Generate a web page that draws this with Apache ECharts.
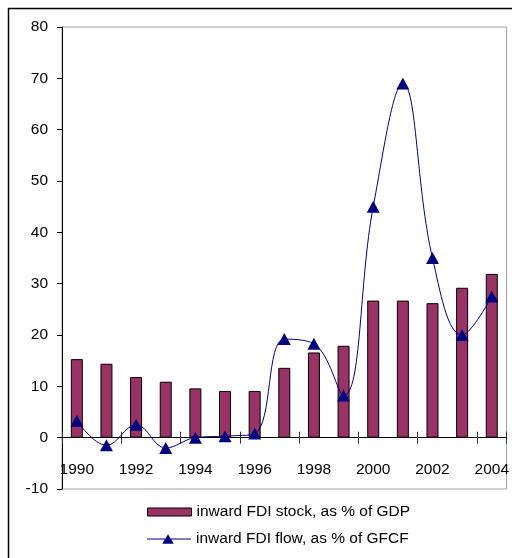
<!DOCTYPE html>
<html>
<head>
<meta charset="utf-8">
<script src="https://cdn.jsdelivr.net/npm/echarts@6/dist/echarts.min.js"></script>
<style>
  html, body { margin: 0; padding: 0; background: #fff; }
  #chart { width: 512px; height: 558px; }
</style>
</head>
<body>
<div id="chart"></div>
<script>
// data
const years = ['1990', '1991', '1992', '1993', '1994', '1995', '1996', '1997',
  '1998', '1999', '2000', '2001', '2002', '2003', '2004']
const stockGdp = [15.3, 14.4, 11.8, 10.9, 9.6, 9.1, 9.1, 13.6, 16.6, 17.9, 26.7, 26.7, 26.2, 29.2, 31.9]
const flowGfcf = [3.3, -1.5, 2.5, -2, 0, 0.3, 0.8, 19.2, 18.3, 8.2, 45, 69, 35, 20, 27.5]
const yTicks = [-10, 0, 10, 20, 30, 40, 50, 60, 70, 80]

const font = 'Liberation Sans, Arial, sans-serif'
const chart = echarts.init(document.getElementById('chart'))

const gridTop = 27
const gridBottom = 69
const yMin = yTicks[0]
const yMax = yTicks[yTicks.length - 1]
// move the category axis up from the grid bottom to the value 0
const zeroOffset = -(558 - gridTop - gridBottom) * (0 - yMin) / (yMax - yMin)

const stockName = 'inward FDI stock, as % of GDP'
const flowName = 'inward FDI flow, as % of GFCF'
// legend icon for the line: thin line with a triangle in the middle
const lineIcon = 'path://M0,4.5L46,4.5L46,5.5L0,5.5Z M16,10L22,0L28,10Z'

const option = {
  animation: false,
  textStyle: { fontFamily: font },
  grid: {
    left: 62, top: gridTop, right: 5, bottom: gridBottom,
    show: true, borderColor: '#a0a0a0', borderWidth: 1
  },
  graphic: [
    {
      type: 'rect',
      shape: { x: 8.5, y: 8.5, width: 700, height: 700 },
      style: { fill: 'none', stroke: '#000', lineWidth: 1.5 },
      silent: true
    }
  ],
  legend: [
    {
      left: 142,
      top: 499,
      itemWidth: 44,
      itemHeight: 8,
      icon: 'rect',
      itemStyle: { borderColor: '#000', borderWidth: 1 },
      textStyle: { fontFamily: font, fontSize: 15.5, color: '#000' },
      data: [stockName]
    },
    {
      left: 142,
      top: 526,
      itemWidth: 44,
      itemHeight: 11,
      icon: lineIcon,
      textStyle: { fontFamily: font, fontSize: 15.5, color: '#000' },
      data: [flowName]
    }
  ],
  xAxis: [
    {
      type: 'category',
      data: years,
      offset: zeroOffset,
      axisLine: { onZero: false, lineStyle: { color: '#000', width: 1 } },
      axisTick: { show: true, length: 6, lineStyle: { color: '#333' } },
      axisLabel: {
        interval: 1,
        margin: 24,
        fontFamily: font,
        fontSize: 15.5,
        color: '#000'
      }
    },
    {
      type: 'category',
      data: years,
      position: 'bottom',
      offset: zeroOffset,
      axisLine: { show: false, onZero: false },
      axisTick: { show: true, inside: true, length: 6, lineStyle: { color: '#333' } },
      axisLabel: { show: false }
    }
  ],
  yAxis: {
    type: 'value',
    min: yMin,
    max: yMax,
    interval: 10,
    splitLine: { show: false },
    axisLine: { show: true, lineStyle: { color: '#000', width: 1 } },
    axisTick: { show: true, length: 5, lineStyle: { color: '#000' } },
    axisLabel: {
      margin: 14,
      fontFamily: font,
      fontSize: 15.5,
      color: '#000'
    }
  },
  series: [
    {
      name: stockName,
      type: 'bar',
      data: stockGdp,
      barWidth: 12,
      itemStyle: { color: '#993366', borderColor: '#000', borderWidth: 1 }
    },
    {
      name: flowName,
      type: 'line',
      data: flowGfcf,
      smooth: 0.4,
      symbol: 'triangle',
      symbolSize: [13, 12],
      showAllSymbol: true,
      lineStyle: { color: '#000080', width: 1 },
      itemStyle: { color: '#000080' },
      z: 3
    }
  ]
}

chart.setOption(option)
</script>
</body>
</html>
